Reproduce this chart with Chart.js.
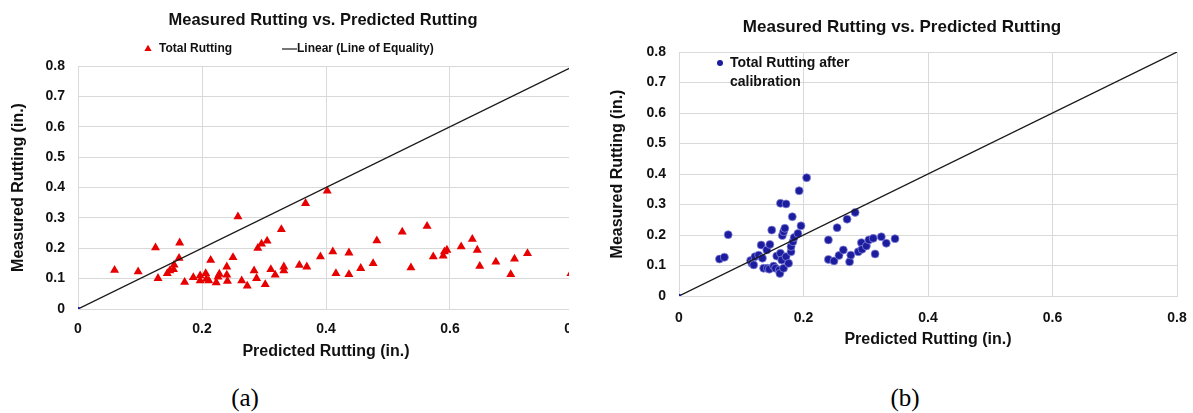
<!DOCTYPE html>
<html>
<head>
<meta charset="utf-8">
<script src="https://cdn.jsdelivr.net/npm/chart.js@4.4.1/dist/chart.umd.min.js"></script>
<style>
  html, body { margin: 0; padding: 0; background: #fff; }
  body { width: 1193px; height: 413px; position: relative; overflow: hidden; }
  #panelA { position: absolute; left: 0; top: 0; width: 569px; height: 370px; overflow: hidden; }
  #panelB { position: absolute; left: 600px; top: 0; width: 593px; height: 370px; }
  .caption { position: absolute; top: 383px; font-family: "Liberation Serif", "Times New Roman", serif;
             font-size: 25px; color: #000; line-height: 30px; transform: translateX(-50%); }
</style>
</head>
<body>
<div id="panelA"><canvas id="chartA" width="600" height="370"></canvas></div>
<div id="panelB"><canvas id="chartB" width="593" height="370"></canvas></div>
<div class="caption" style="left:245px">(a)</div>
<div class="caption" style="left:905px">(b)</div>
<script>
// ---- data -------------------------------------------------------------
const chartTitle = 'Measured Rutting vs. Predicted Rutting';
const xAxisTitle = 'Predicted Rutting (in.)';
const yAxisTitle = 'Measured Rutting (in.)';
const seriesNameA = 'Total Rutting';
const seriesNameB = 'Total Rutting after calibration';
const seriesLinesB = ['Total Rutting after', 'calibration'];
const equalityName = 'Linear (Line of Equality)';

const axisMin = 0;
const axisMax = 0.8;
const xTickStep = 0.2;
const yTickStep = 0.1;

// line of equality end points
const equalityX = [0, 0.8];
const equalityY = [0, 0.8];

// (a) total rutting before calibration
const predictedA = [0.059,0.097,0.125,0.129,0.144,0.148,0.154,0.155,0.163,0.164,
                    0.172,0.186,0.197,0.197,0.206,0.207,0.211,0.214,0.223,0.226,
                    0.228,0.240,0.240,0.241,0.250,0.258,0.264,0.273,0.284,0.288,
                    0.290,0.296,0.302,0.305,0.311,0.318,0.328,0.332,0.332,0.357,
                    0.367,0.369,0.391,0.402,0.411,0.416,0.437,0.437,0.456,0.476,
                    0.482,0.523,0.537,0.563,0.573,0.589,0.591,0.595,0.618,0.636,
                    0.644,0.648,0.674,0.698,0.704,0.725,0.795];
const measuredA  = [0.128,0.123,0.202,0.101,0.117,0.126,0.130,0.145,0.167,0.218,
                    0.088,0.104,0.110,0.093,0.117,0.098,0.093,0.161,0.087,0.106,
                    0.115,0.139,0.112,0.092,0.170,0.304,0.093,0.076,0.126,0.101,
                    0.200,0.214,0.081,0.224,0.130,0.112,0.262,0.139,0.126,0.144,
                    0.348,0.139,0.172,0.389,0.189,0.117,0.185,0.114,0.134,0.150,
                    0.225,0.254,0.136,0.273,0.172,0.175,0.189,0.194,0.205,0.230,
                    0.194,0.141,0.155,0.114,0.165,0.183,0.117];

// (b) total rutting after calibration
const predictedB = [0.065,0.073,0.079,0.115,0.117,0.120,0.122,0.128,0.132,0.134,
                    0.136,0.141,0.142,0.146,0.145,0.149,0.152,0.157,0.155,0.161,
                    0.162,0.163,0.163,0.165,0.166,0.168,0.170,0.168,0.172,0.172,
                    0.176,0.180,0.180,0.182,0.183,0.185,0.191,0.193,0.196,0.205,
                    0.240,0.240,0.249,0.254,0.257,0.264,0.270,0.274,0.276,0.283,
                    0.288,0.293,0.294,0.301,0.305,0.312,0.315,0.325,0.333,0.347];
const measuredB  = [0.121,0.127,0.201,0.116,0.107,0.102,0.129,0.134,0.167,0.124,
                    0.091,0.151,0.091,0.169,0.088,0.216,0.098,0.131,0.091,0.085,
                    0.074,0.140,0.304,0.118,0.198,0.211,0.222,0.091,0.302,0.129,
                    0.107,0.145,0.162,0.260,0.178,0.192,0.205,0.345,0.230,0.388,
                    0.184,0.120,0.115,0.224,0.133,0.151,0.252,0.112,0.134,0.274,
                    0.145,0.175,0.153,0.164,0.184,0.189,0.138,0.194,0.173,0.188];

// ---- helpers ----------------------------------------------------------
const FONT = '"Liberation Sans", Arial, Helvetica, sans-serif';
const INK = '#111';
const GRID = '#d9d9d9';
const RED = '#e60000';
const NAVY = '#1c1c9e';

const toPoints = (xs, ys) => xs.map((x, i) => ({ x, y: ys[i] }));
const fmt = v => (Math.abs(v) < 1e-9 ? '0' : (+v).toFixed(1));

function equalityDataset() {
  return {
    label: equalityName,
    type: 'scatter',
    data: toPoints(equalityX, equalityY),
    showLine: true,
    borderColor: '#1a1a1a',
    borderWidth: 1.3,
    pointRadius: [2.2, 0],
    pointBackgroundColor: NAVY,
    pointBorderColor: NAVY,
    pointBorderWidth: 0,
    order: 0
  };
}

function scales(opt) {
  return {
    x: {
      type: 'linear', min: axisMin, max: axisMax,
      ticks: { stepSize: xTickStep, callback: fmt, color: INK, padding: opt.xTickPad,
               font: { family: FONT, size: 14, weight: 'bold' }, maxRotation: 0 },
      grid: { color: GRID, drawTicks: false, lineWidth: 1 },
      border: { color: GRID },
      title: { display: true, text: xAxisTitle, color: INK,
               font: { family: FONT, size: 16, weight: 'bold', lineHeight: 1.2 },
               padding: { top: 0, bottom: opt.xTitlePad } },
      // fixed band height; edge labels may overhang the plot
      afterFit: s => { s.height = opt.xHeight; s.paddingLeft = 0; s.paddingRight = 0; }
    },
    y: {
      type: 'linear', min: axisMin, max: axisMax,
      ticks: { stepSize: yTickStep, callback: fmt, color: INK, padding: opt.yTickPad,
               font: { family: FONT, size: 14, weight: 'bold' } },
      grid: { color: GRID, drawTicks: false, lineWidth: 1 },
      border: { color: GRID },
      title: { display: true, text: yAxisTitle, color: INK,
               font: { family: FONT, size: 16, weight: 'bold', lineHeight: 1.2 },
               padding: { top: opt.yTitlePad, bottom: 0 } },
      afterFit: s => { s.width = opt.yWidth; }
    }
  };
}

function drawMarker(ctx, style, radius, x, y) {
  if (Chart.helpers && Chart.helpers.drawPoint) {
    Chart.helpers.drawPoint(ctx, { pointStyle: style, radius, rotation: 0, borderWidth: 0 }, x, y);
  } else {
    ctx.beginPath(); ctx.arc(x, y, radius, 0, Math.PI * 2); ctx.fill();
  }
}

// chart heading and legend, drawn on top of the canvas
const headerPlugin = {
  id: 'header',
  afterDraw(chart, args, o) {
    const ctx = chart.ctx;
    ctx.save();
    ctx.fillStyle = INK;
    ctx.textBaseline = 'middle';
    ctx.textAlign = 'center';
    ctx.font = `bold ${o.titleSize}px ${FONT}`;
    ctx.fillText(chartTitle, o.titleX, o.titleY);

    ctx.textAlign = 'left';
    ctx.font = `bold ${o.legendSize}px ${FONT}`;
    o.items.forEach(it => {
      const ds = chart.data.datasets[it.dataset];
      if (it.kind === 'line') {
        ctx.strokeStyle = ds.borderColor;
        ctx.lineWidth = 1.2;
        ctx.beginPath(); ctx.moveTo(it.x, it.y); ctx.lineTo(it.x + it.len, it.y); ctx.stroke();
      } else {
        ctx.fillStyle = ds.backgroundColor;
        drawMarker(ctx, ds.pointStyle || 'circle', it.r, it.x, it.y);
      }
      ctx.fillStyle = INK;
      const lines = it.lines || [ds.label];
      const step = it.lh || 0;
      lines.forEach((t, k) => ctx.fillText(t, it.tx, it.y + k * step));
    });
    ctx.restore();
  }
};

// ---- (a) ---------------------------------------------------------------
new Chart(document.getElementById('chartA'), {
  type: 'scatter',
  data: {
    datasets: [
      {
        label: seriesNameA,
        data: toPoints(predictedA, measuredA),
        pointStyle: 'triangle',
        pointRadius: 5.2,
        backgroundColor: RED,
        borderColor: RED,
        borderWidth: 0,
        order: 1
      },
      equalityDataset()
    ]
  },
  options: {
    responsive: false,
    animation: false,
    layout: { padding: { left: 0, right: 26, top: 66, bottom: 0 } },
    scales: scales({ xTickPad: 11.5, xTitlePad: 9, xHeight: 61, yTickPad: 13, yTitlePad: 8.5, yWidth: 78 }),
    plugins: {
      legend: { display: false },
      title: { display: false },
      tooltip: { enabled: false },
      header: {
        titleSize: 16.5, titleX: 323, titleY: 20, legendSize: 12,
        items: [
          { dataset: 0, kind: 'marker', r: 4.2, x: 148, y: 49, tx: 159 },
          { dataset: 1, kind: 'line', len: 15, x: 282, y: 49, tx: 297 }
        ]
      }
    }
  },
  plugins: [headerPlugin]
});

// ---- (b) ---------------------------------------------------------------
new Chart(document.getElementById('chartB'), {
  type: 'scatter',
  data: {
    datasets: [
      {
        label: seriesNameB,
        data: toPoints(predictedB, measuredB),
        pointStyle: 'circle',
        pointRadius: 4,
        backgroundColor: NAVY,
        borderColor: 'rgba(140,140,220,0.9)',
        borderWidth: 0.8,
        order: 1
      },
      equalityDataset()
    ]
  },
  options: {
    responsive: false,
    animation: false,
    layout: { padding: { left: 0, right: 16, top: 52, bottom: 0 } },
    scales: scales({ xTickPad: 13.6, xTitlePad: 20.6, xHeight: 74, yTickPad: 13, yTitlePad: 8, yWidth: 79 }),
    plugins: {
      legend: { display: false },
      title: { display: false },
      tooltip: { enabled: false },
      header: {
        titleSize: 17, titleX: 302, titleY: 27, legendSize: 14,
        items: [
          { dataset: 0, kind: 'marker', r: 3, x: 120, y: 63, tx: 130, lh: 19, lines: seriesLinesB }
        ]
      }
    }
  },
  plugins: [headerPlugin]
});
</script>
</body>
</html>
